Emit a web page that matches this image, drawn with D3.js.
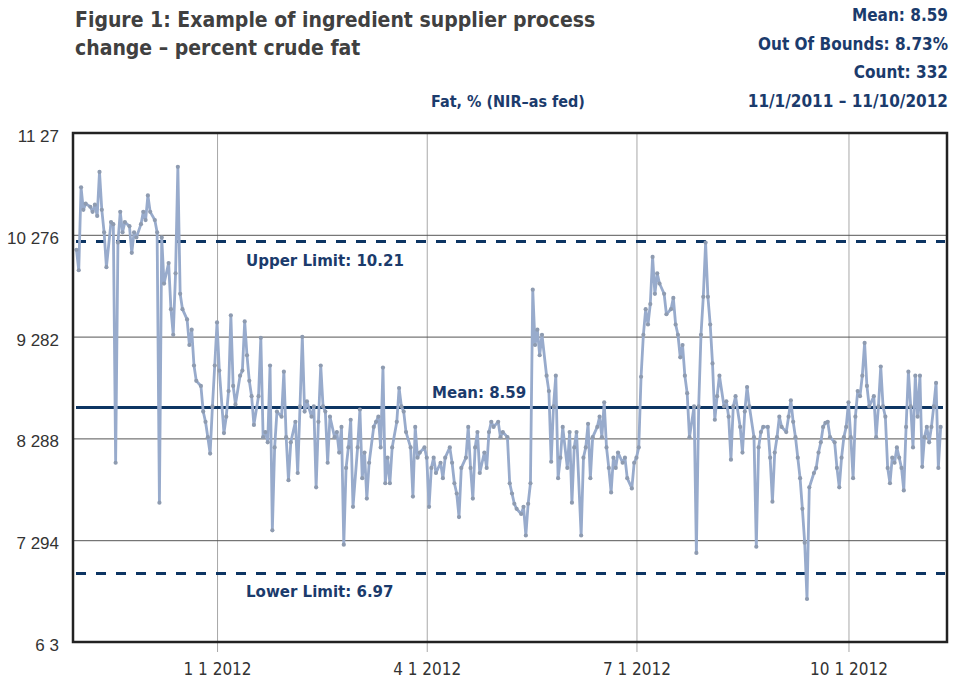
<!DOCTYPE html>
<html>
<head>
<meta charset="utf-8">
<script src="https://cdn.jsdelivr.net/npm/d3@7"></script>
<style>
  body { margin: 0; background: #fff; }
  text { font-family: "DejaVu Sans Condensed", "Liberation Sans Narrow", "Liberation Sans", sans-serif; }
</style>
</head>
<body>
<div id="chart"></div>
<script>
// sample day = days after 11/1/2011, one entry per NIR sample
const startDate = new Date(2011, 10, 1);

const sampleDay = [
    0, 1, 2, 3, 4, 6, 7, 8, 9, 10,
    11, 12, 13, 15, 16, 17, 18, 19, 20, 21,
    23, 24, 25, 26, 28, 29, 30, 31, 32, 34,
    35, 36, 37, 38, 40, 41, 42, 43, 44, 45,
    46, 48, 49, 50, 51, 52, 54, 55, 56, 57,
    58, 59, 60, 61, 62, 64, 65, 66, 67, 68,
    69, 71, 72, 73, 74, 75, 76, 77, 79, 80,
    81, 82, 83, 84, 85, 86, 87, 89, 90, 91,
    92, 93, 95, 96, 97, 98, 99, 100, 102, 103,
    104, 105, 106, 107, 108, 109, 110, 112, 113, 114,
    115, 116, 117, 118, 119, 120, 122, 123, 124, 125,
    126, 127, 129, 130, 131, 132, 133, 134, 135, 136,
    137, 139, 140, 141, 142, 143, 145, 146, 147, 148,
    149, 151, 152, 153, 154, 155, 156, 158, 159, 160,
    162, 163, 164, 165, 166, 167, 169, 170, 171, 172,
    173, 174, 175, 177, 178, 179, 180, 181, 183, 184,
    185, 187, 188, 189, 190, 191, 193, 194, 195, 196,
    197, 198, 199, 200, 201, 202, 204, 205, 206, 207,
    208, 209, 210, 211, 213, 214, 215, 216, 217, 219,
    220, 221, 222, 223, 224, 226, 227, 228, 229, 230,
    231, 232, 233, 234, 235, 237, 238, 239, 241, 242,
    243, 244, 245, 246, 247, 248, 249, 250, 251, 252,
    253, 255, 256, 258, 259, 260, 261, 262, 263, 264,
    265, 266, 268, 269, 270, 271, 272, 273, 274, 275,
    276, 277, 278, 279, 281, 282, 283, 284, 285, 286,
    288, 289, 290, 291, 292, 294, 295, 296, 297, 298,
    300, 301, 302, 303, 304, 305, 306, 308, 309, 310,
    311, 312, 313, 314, 315, 316, 317, 318, 320, 321,
    322, 323, 324, 325, 326, 327, 329, 330, 331, 332,
    333, 334, 335, 336, 337, 338, 339, 340, 341, 342,
    343, 344, 346, 347, 348, 349, 350, 351, 352, 353,
    354, 355, 356, 357, 358, 359, 360, 361, 362, 363,
    364, 365, 366, 367, 368, 369, 370, 371, 372, 373,
    374, 375
];

const fatValue = [
    10.13, 9.93, 10.74, 10.52, 10.58, 10.55, 10.5, 10.57, 10.46, 10.89,
    10.52, 10.3, 9.96, 10.4, 10.38, 8.05, 10.2, 10.5, 10.3, 10.4,
    10.36, 10.1, 10.3, 10.25, 10.38, 10.5, 10.42, 10.66, 10.5, 10.42,
    10.3, 7.66, 10.25, 9.8, 10.0, 9.55, 9.3, 9.9, 10.94, 9.7,
    9.55, 9.45, 9.2, 9.35, 9.0, 8.85, 8.8, 8.55, 8.45, 8.3,
    8.14, 8.6, 9.0, 9.42, 8.95, 8.34, 8.5, 8.75, 9.49, 8.8,
    8.62, 8.9, 8.95, 9.43, 9.1, 8.85, 8.7, 8.42, 8.7, 9.27,
    8.3, 8.35, 8.25, 9.0, 7.39, 8.2, 8.55, 8.5, 8.94, 8.3,
    7.88, 8.25, 8.45, 7.95, 8.6, 9.28, 8.55, 8.65, 8.5, 8.6,
    7.81, 8.45, 9.0, 8.6, 8.55, 8.05, 8.5, 8.3, 8.35, 8.15,
    8.4, 7.25, 8.0, 8.2, 8.47, 7.62, 8.2, 8.57, 7.9, 8.15,
    7.7, 8.05, 8.4, 8.45, 8.5, 8.2, 8.98, 7.85, 8.1, 7.85,
    8.2, 8.45, 8.78, 8.6, 8.55, 8.35, 8.2, 7.72, 8.4, 8.1,
    8.15, 8.2, 8.1, 7.62, 8.0, 8.1, 7.95, 8.05, 7.9, 8.1,
    8.2, 8.05, 7.85, 7.75, 7.52, 8.0, 8.1, 8.4, 8.0, 7.7,
    8.2, 8.35, 7.95, 8.15, 8.0, 8.35, 8.45, 8.4, 8.45, 8.3,
    8.35, 8.3, 7.85, 7.75, 7.65, 7.6, 7.55, 7.62, 7.34, 7.65,
    7.85, 9.74, 9.2, 9.35, 9.1, 9.3, 8.9, 8.75, 8.06, 8.6,
    8.9, 7.9, 8.1, 8.4, 8.0, 8.35, 7.66, 8.2, 8.35, 7.34,
    8.1, 8.2, 8.43, 7.9, 8.3, 8.4, 8.5, 8.3, 8.64, 8.2,
    8.0, 7.76, 8.1, 8.0, 8.15, 8.05, 8.1, 7.9, 7.8, 8.05,
    8.1, 8.2, 8.89, 9.3, 9.55, 9.4, 9.6, 10.06, 9.7, 9.9,
    9.8, 9.7, 9.5, 9.55, 9.66, 9.4, 9.3, 9.08, 9.2, 8.9,
    8.73, 8.3, 8.6, 7.17, 8.6, 9.3, 9.67, 10.2, 9.67, 9.4,
    9.02, 8.47, 8.7, 8.9, 8.6, 8.65, 8.5, 8.08, 8.6, 8.7,
    8.4, 8.15, 8.55, 8.79, 8.6, 8.3, 7.23, 8.2, 8.35, 8.4,
    8.4, 8.1, 7.67, 8.15, 8.3, 8.5, 8.4, 8.35, 8.5, 8.66,
    8.45, 8.3, 8.1, 7.9, 7.6, 7.27, 6.72, 7.81, 7.95, 8.0,
    8.15, 8.25, 8.4, 8.44, 8.45, 8.3, 8.25, 8.0, 7.81, 8.1,
    8.3, 8.4, 8.64, 8.3, 7.9, 8.5, 8.75, 8.7, 8.9, 9.22,
    8.8, 8.6, 8.7, 8.3, 8.6, 8.99, 8.6, 8.5, 8.0, 7.85,
    8.1, 8.05, 8.2, 8.1, 8.0, 7.78, 8.4, 8.94, 8.6, 8.2,
    8.9, 8.5, 8.9, 8.01, 8.3, 8.4, 8.25, 8.4, 8.6, 8.83,
    8.0, 8.4
];

const yTickValues = [11.27, 10.276, 9.282, 8.288, 7.294, 6.3];
const yTickLabels = ["11 27", "10 276", "9 282", "8 288", "7 294", "6 3"];

const xTickDates = [new Date(2012, 0, 1), new Date(2012, 3, 1), new Date(2012, 6, 1), new Date(2012, 9, 1)];
const xTickLabels = ["1 1 2012", "4 1 2012", "7 1 2012", "10 1 2012"];

const limitNames = ["Upper Limit", "Lower Limit"];
const limitValues = [10.21, 6.97];
const meanValue = 8.59;

const titleLines = ["Figure 1:  Example of ingredient supplier process", "change \u2013 percent crude fat"];
const statLines = ["Mean: 8.59", "Out Of Bounds: 8.73%", "Count: 332", "11/1/2011 \u2013 11/10/2012"];
const seriesName = "Fat, % (NIR\u2013as fed)";

const cfg = {
    width: 964,
    height: 688,
    margin: { top: 133, right: 17, bottom: 46, left: 73 },
    navy: "#0d3563",
    textNavy: "#1b3b6c",
    lineColor: "#98abcc",
    dotColor: "#8e9bb0"
};

const width = cfg.width - cfg.margin.left - cfg.margin.right;
const height = cfg.height - cfg.margin.top - cfg.margin.bottom;

const data = sampleDay.map((d, i) => ({ date: d3.timeDay.offset(startDate, d), value: fatValue[i] }));

const x = d3.scaleTime()
    .domain([new Date(2011, 9, 30, 12), new Date(2012, 10, 12, 18)])
    .range([0, width]);

const y = d3.scaleLinear()
    .domain([6.3, 11.27])
    .range([height, 0]);

const svg = d3.select("#chart")
    .append("svg")
    .attr("width", cfg.width)
    .attr("height", cfg.height);

// header texts
svg.append("g")
    .selectAll("text")
    .data(titleLines)
    .join("text")
    .attr("x", 75)
    .attr("y", (d, i) => 27 + i * 28)
    .attr("fill", "#404040")
    .attr("font-size", 21)
    .attr("font-weight", "bold")
    .text(d => d);

svg.append("g")
    .selectAll("text")
    .data(statLines)
    .join("text")
    .attr("x", 948)
    .attr("y", (d, i) => 21 + i * 28.7)
    .attr("text-anchor", "end")
    .attr("fill", cfg.textNavy)
    .attr("font-size", 17)
    .attr("font-weight", "bold")
    .text(d => d);

svg.append("text")
    .attr("x", 508)
    .attr("y", 107)
    .attr("text-anchor", "middle")
    .attr("fill", cfg.textNavy)
    .attr("font-size", 16)
    .attr("font-weight", "bold")
    .text(seriesName);

const g = svg.append("g")
    .attr("transform", "translate(" + cfg.margin.left + "," + cfg.margin.top + ")");

// vertical grid + ticks below the plot
g.append("g")
    .attr("transform", "translate(0," + height + ")")
    .call(d3.axisBottom(x).tickValues(xTickDates).tickSize(-height).tickFormat(""))
    .call(a => a.select(".domain").remove())
    .call(a => a.selectAll("line").attr("stroke", "#a8a8a8"));

g.append("g")
    .attr("transform", "translate(0," + height + ")")
    .call(d3.axisBottom(x).tickValues(xTickDates).tickSize(10).tickPadding(11)
        .tickFormat((d, i) => xTickLabels[i]))
    .call(a => a.select(".domain").remove())
    .call(a => a.selectAll("line").attr("stroke", "#a8a8a8"))
    .call(a => a.selectAll("text")
        .attr("fill", "#333")
        .attr("font-size", 17)
        .style("font-family", "\"DejaVu Sans Condensed\", sans-serif"));

// horizontal grid
g.append("g")
    .call(d3.axisLeft(y).tickValues(yTickValues.slice(1, -1)).tickSize(-width).tickFormat(""))
    .call(a => a.select(".domain").remove())
    .call(a => a.selectAll("line").attr("stroke", "#555").attr("stroke-width", 1));

// y labels
g.append("g")
    .call(d3.axisLeft(y).tickValues(yTickValues).tickSize(0).tickPadding(14)
        .tickFormat((d, i) => yTickLabels[i]))
    .call(a => a.select(".domain").remove())
    .call(a => a.selectAll("text")
        .attr("dy", "0.5em")
        .attr("fill", "#333")
        .attr("font-size", 17)
        .style("font-family", "\"Liberation Sans\", Arial, sans-serif"));

// control limits
g.append("g")
    .selectAll("line")
    .data(limitValues)
    .join("line")
    .attr("x1", 3)
    .attr("x2", width - 2)
    .attr("y1", d => y(d))
    .attr("y2", d => y(d))
    .attr("stroke", cfg.navy)
    .attr("stroke-width", 3)
    .attr("stroke-dasharray", "10,10");

g.append("line")
    .attr("x1", 3)
    .attr("x2", width - 4)
    .attr("y1", y(meanValue))
    .attr("y2", y(meanValue))
    .attr("stroke", cfg.navy)
    .attr("stroke-width", 3);

// data line
const line = d3.line()
    .x(d => x(d.date))
    .y(d => y(d.value));

g.append("path")
    .datum(data)
    .attr("fill", "none")
    .attr("stroke", cfg.lineColor)
    .attr("stroke-width", 2.8)
    .attr("stroke-linejoin", "round")
    .attr("d", line);

g.append("g")
    .selectAll("circle")
    .data(data)
    .join("circle")
    .attr("cx", d => x(d.date))
    .attr("cy", d => y(d.value))
    .attr("r", 2.1)
    .attr("fill", cfg.dotColor);

// line labels
const labelData = [
    { text: limitNames[0] + ": " + limitValues[0].toFixed(2), value: limitValues[0], dy: 24 },
    { text: "Mean: " + meanValue.toFixed(2), value: meanValue, dy: -9 },
    { text: limitNames[1] + ": " + limitValues[1].toFixed(2), value: limitValues[1], dy: 24 }
];

g.append("g")
    .selectAll("text")
    .data(labelData)
    .join("text")
    .attr("x", (d, i) => i === 1 ? 359 : 173)
    .attr("y", d => y(d.value) + d.dy)
    .attr("fill", cfg.textNavy)
    .attr("font-size", 16.7)
    .attr("font-weight", "bold")
    .text(d => d.text);

// plot frame
g.append("rect")
    .attr("x", 0)
    .attr("y", 0)
    .attr("width", width)
    .attr("height", height)
    .attr("fill", "none")
    .attr("stroke", "#222")
    .attr("stroke-width", 2.5);
</script>
</body>
</html>
